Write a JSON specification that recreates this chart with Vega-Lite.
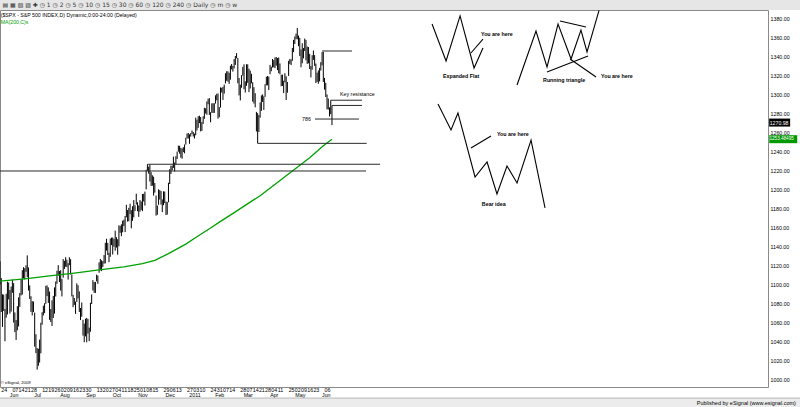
{
  "$schema": "https://vega.github.io/schema/vega-lite/v6.json",
  "width": 768,
  "height": 377,
  "autosize": {"type": "none"},
  "padding": {"left": 0, "top": 10, "right": 32, "bottom": 20},
  "background": "white",
  "config": {
    "view": {"stroke": "#8a8a8a", "strokeWidth": 1},
    "axis": {"grid": false, "domain": false, "ticks": false, "labelFont": "Liberation Sans, sans-serif", "labelFontSize": 5.3, "labelColor": "#000000", "labelOverlap": false, "labelFlush": false, "labelBound": false, "zindex": 1},
    "text": {"font": "Liberation Sans, sans-serif", "fontSize": 5.3, "color": "#000000"}
  },
  "datasets": {
    "px": [
      {"i":0,"h":1124.9,"l":1100.7,"c":1115.05},{"i":1,"h":1107.3,"l":1071.6,"c":1071.59},{"i":2,"h":1090.2,"l":1055.9,"c":1087.69},{"i":3,"h":1089.9,"l":1072.7,"c":1073.65},{"i":4,"h":1074.8,"l":1040.8,"c":1074.03},{"i":5,"h":1090.8,"l":1065.6,"c":1067.95},{"i":6,"h":1103.5,"l":1069.0,"c":1103.06},{"i":7,"h":1102.6,"l":1084.8,"c":1089.41},
      {"i":8,"h":1094.8,"l":1069.9,"c":1070.71},{"i":9,"h":1098.4,"l":1072.0,"c":1098.38},{"i":10,"h":1105.7,"l":1091.8,"c":1102.83},{"i":11,"h":1102.0,"l":1060.5,"c":1064.88},{"i":12,"h":1071.1,"l":1050.4,"c":1050.47},{"i":13,"h":1063.1,"l":1042.2,"c":1062.0},{"i":14,"h":1077.7,"l":1052.3,"c":1055.69},{"i":15,"h":1087.0,"l":1056.4,"c":1086.84},{"i":16,"h":1091.6,"l":1077.0,"c":1091.6},{"i":17,"h":1105.9,"l":1089.0,"c":1089.63},{"i":18,"h":1115.6,"l":1089.9,"c":1115.23},{"i":19,"h":1118.7,"l":1107.1,"c":1114.61},{"i":20,"h":1117.7,"l":1105.9,"c":1116.04},{"i":21,"h":1120.7,"l":1113.8,"c":1117.51},{"i":22,"h":1131.2,"l":1108.2,"c":1113.2},{"i":23,"h":1118.5,"l":1094.2,"c":1095.31},{"i":24,"h":1099.6,"l":1085.3,"c":1092.04},{"i":25,"h":1088.2,"l":1071.7,"c":1073.69},{"i":26,"h":1083.1,"l":1067.9,"c":1076.76},{"i":27,"h":1082.6,"l":1071.5,"c":1074.57},{"i":28,"h":1071.0,"l":1035.2,"c":1041.24},{"i":29,"h":1048.1,"l":1028.3,"c":1030.71},
      {"i":30,"h":1033.6,"l":1010.9,"c":1027.37},{"i":31,"h":1032.9,"l":1015.0,"c":1022.58},{"i":32,"h":1042.5,"l":1018.4,"c":1028.06},{"i":33,"h":1060.3,"l":1028.1,"c":1060.27},{"i":34,"h":1071.3,"l":1058.2,"c":1070.25},{"i":35,"h":1078.2,"l":1068.0,"c":1077.96},{"i":36,"h":1080.8,"l":1070.4,"c":1078.75},{"i":37,"h":1099.1,"l":1080.2,"c":1095.34},{"i":38,"h":1099.6,"l":1088.3,"c":1095.17},{"i":39,"h":1097.5,"l":1081.1,"c":1096.48},{"i":40,"h":1093.1,"l":1063.3,"c":1064.88},{"i":41,"h":1074.7,"l":1061.1,"c":1071.25},{"i":42,"h":1083.9,"l":1056.9,"c":1083.48},{"i":43,"h":1088.5,"l":1065.3,"c":1069.59},{"i":44,"h":1097.5,"l":1069.9,"c":1093.67},{"i":45,"h":1103.7,"l":1087.9,"c":1102.66},{"i":46,"h":1115.0,"l":1101.3,"c":1115.01},{"i":47,"h":1120.9,"l":1109.8,"c":1113.84},{"i":48,"h":1114.7,"l":1103.1,"c":1106.13},{"i":49,"h":1115.6,"l":1094.1,"c":1101.53},{"i":50,"h":1106.4,"l":1088.0,"c":1101.6},
      {"i":51,"h":1127.3,"l":1107.7,"c":1125.86},{"i":52,"h":1125.4,"l":1116.8,"c":1120.46},{"i":53,"h":1129.2,"l":1119.2,"c":1127.24},{"i":54,"h":1126.6,"l":1118.8,"c":1125.81},{"i":55,"h":1123.0,"l":1105.7,"c":1121.64},{"i":56,"h":1129.2,"l":1120.9,"c":1127.79},{"i":57,"h":1127.2,"l":1111.0,"c":1121.06},{"i":58,"h":1111.1,"l":1088.0,"c":1089.47},{"i":59,"h":1089.6,"l":1076.6,"c":1083.61},{"i":60,"h":1086.3,"l":1079.0,"c":1079.25},{"i":61,"h":1082.6,"l":1069.6,"c":1079.38},{"i":62,"h":1101.7,"l":1082.2,"c":1092.54},{"i":63,"h":1099.8,"l":1085.8,"c":1094.16},{"i":64,"h":1093.3,"l":1071.6,"c":1075.63},{"i":65,"h":1075.8,"l":1063.1,"c":1071.69},{"i":66,"h":1081.6,"l":1066.6,"c":1067.36},{"i":67,"h":1063.3,"l":1046.7,"c":1051.87},{"i":68,"h":1059.4,"l":1039.8,"c":1055.33},{"i":69,"h":1064.5,"l":1045.9,"c":1047.22},{"i":70,"h":1065.3,"l":1039.7,"c":1064.59},{"i":71,"h":1064.3,"l":1048.8,"c":1048.92},{"i":72,"h":1055.1,"l":1040.9,"c":1049.33},
      {"i":73,"h":1081.3,"l":1050.8,"c":1080.29},{"i":74,"h":1090.1,"l":1080.0,"c":1090.1},{"i":75,"h":1105.1,"l":1094.2,"c":1104.51},{"i":76,"h":1103.1,"l":1091.8,"c":1091.84},{"i":77,"h":1103.3,"l":1091.6,"c":1098.87},{"i":78,"h":1110.9,"l":1103.9,"c":1104.18},{"i":79,"h":1110.0,"l":1101.2,"c":1109.55},{"i":80,"h":1123.9,"l":1112.9,"c":1121.9},{"i":81,"h":1127.4,"l":1115.6,"c":1121.1},{"i":82,"h":1126.0,"l":1114.6,"c":1125.07},{"i":83,"h":1125.1,"l":1118.9,"c":1124.66},{"i":84,"h":1131.5,"l":1122.4,"c":1125.59},{"i":85,"h":1144.4,"l":1122.8,"c":1142.71},{"i":86,"h":1148.6,"l":1136.2,"c":1139.78},{"i":87,"h":1144.4,"l":1131.6,"c":1134.28},{"i":88,"h":1133.9,"l":1124.0,"c":1124.83},{"i":89,"h":1148.9,"l":1129.6,"c":1148.67},{"i":90,"h":1149.9,"l":1142.0,"c":1142.16},{"i":91,"h":1150.0,"l":1132.1,"c":1147.7},{"i":92,"h":1148.6,"l":1140.3,"c":1144.73},{"i":93,"h":1157.2,"l":1136.1,"c":1141.2},
      {"i":94,"h":1150.3,"l":1139.4,"c":1146.24},{"i":95,"h":1148.2,"l":1131.9,"c":1137.03},{"i":96,"h":1162.8,"l":1140.7,"c":1160.75},{"i":97,"h":1162.3,"l":1154.9,"c":1159.97},{"i":98,"h":1163.9,"l":1151.4,"c":1158.06},{"i":99,"h":1167.7,"l":1155.5,"c":1165.15},{"i":100,"h":1168.7,"l":1162.0,"c":1165.32},{"i":101,"h":1172.6,"l":1155.7,"c":1169.77},{"i":102,"h":1184.4,"l":1171.3,"c":1178.1},{"i":103,"h":1178.9,"l":1166.7,"c":1173.81},{"i":104,"h":1181.2,"l":1167.1,"c":1176.19},{"i":105,"h":1185.5,"l":1174.6,"c":1184.71},{"i":106,"h":1178.8,"l":1159.7,"c":1165.9},{"i":107,"h":1182.9,"l":1167.5,"c":1178.17},{"i":108,"h":1189.4,"l":1171.2,"c":1180.26},{"i":109,"h":1183.9,"l":1178.0,"c":1183.08},{"i":110,"h":1196.1,"l":1184.7,"c":1185.62},{"i":111,"h":1187.1,"l":1177.7,"c":1185.64},{"i":112,"h":1183.8,"l":1171.7,"c":1182.45},{"i":113,"h":1189.5,"l":1177.1,"c":1183.78},{"i":114,"h":1187.9,"l":1179.0,"c":1183.26},
      {"i":115,"h":1195.8,"l":1177.7,"c":1184.38},{"i":116,"h":1196.0,"l":1187.9,"c":1193.57},{"i":117,"h":1198.3,"l":1183.6,"c":1197.96},{"i":118,"h":1221.3,"l":1200.6,"c":1221.06},{"i":119,"h":1227.1,"l":1220.3,"c":1225.85},{"i":120,"h":1224.6,"l":1217.2,"c":1223.25},{"i":121,"h":1226.8,"l":1208.9,"c":1213.4},{"i":122,"h":1218.8,"l":1204.3,"c":1218.71},{"i":123,"h":1215.5,"l":1204.5,"c":1213.54},{"i":124,"h":1214.0,"l":1194.1,"c":1199.21},{"i":125,"h":1207.4,"l":1197.2,"c":1197.75},{"i":126,"h":1194.1,"l":1173.0,"c":1178.34},{"i":127,"h":1183.6,"l":1173.9,"c":1178.59},{"i":128,"h":1200.7,"l":1184.4,"c":1196.69},{"i":129,"h":1199.9,"l":1189.9,"c":1199.73},{"i":130,"h":1198.9,"l":1184.6,"c":1197.84},{"i":131,"h":1190.1,"l":1176.7,"c":1180.73},{"i":132,"h":1198.6,"l":1184.0,"c":1198.35},{"i":133,"h":1198.4,"l":1186.2,"c":1189.4},{"i":134,"h":1187.8,"l":1173.6,"c":1187.76},{"i":135,"h":1187.4,"l":1174.1,"c":1180.55},
      {"i":136,"h":1207.6,"l":1187.1,"c":1206.07},{"i":137,"h":1221.9,"l":1206.3,"c":1221.53},{"i":138,"h":1225.6,"l":1216.8,"c":1224.71},{"i":139,"h":1225.7,"l":1220.7,"c":1223.12},{"i":140,"h":1235.1,"l":1223.3,"c":1223.75},{"i":141,"h":1228.9,"l":1219.5,"c":1228.28},{"i":142,"h":1235.6,"l":1227.1,"c":1233.0},{"i":143,"h":1240.4,"l":1232.6,"c":1240.4},{"i":144,"h":1246.7,"l":1240.3,"c":1240.46},{"i":145,"h":1246.6,"l":1238.2,"c":1241.59},{"i":146,"h":1244.3,"l":1234.0,"c":1235.23},{"i":147,"h":1243.7,"l":1232.9,"c":1242.87},{"i":148,"h":1245.1,"l":1239.9,"c":1243.91},{"i":149,"h":1247.9,"l":1238.6,"c":1247.08},{"i":150,"h":1255.0,"l":1247.8,"c":1254.6},{"i":151,"h":1259.4,"l":1254.2,"c":1258.84},{"i":152,"h":1260.0,"l":1254.2,"c":1256.77},{"i":153,"h":1258.6,"l":1248.6,"c":1257.54},{"i":154,"h":1259.9,"l":1256.2,"c":1258.51},{"i":155,"h":1262.6,"l":1258.9,"c":1259.78},{"i":156,"h":1261.1,"l":1256.3,"c":1257.88},{"i":157,"h":1259.3,"l":1254.2,"c":1257.64},
      {"i":158,"h":1276.2,"l":1257.6,"c":1271.87},{"i":159,"h":1274.1,"l":1262.7,"c":1270.2},{"i":160,"h":1277.6,"l":1265.4,"c":1276.56},{"i":161,"h":1278.2,"l":1270.4,"c":1273.85},{"i":162,"h":1276.8,"l":1261.7,"c":1271.5},{"i":163,"h":1271.5,"l":1262.2,"c":1269.75},{"i":164,"h":1277.6,"l":1269.6,"c":1274.48},{"i":165,"h":1286.6,"l":1275.0,"c":1285.96},{"i":166,"h":1286.0,"l":1280.5,"c":1283.76},{"i":167,"h":1293.2,"l":1279.1,"c":1293.24},{"i":168,"h":1296.1,"l":1290.2,"c":1295.02},{"i":169,"h":1296.7,"l":1279.0,"c":1281.92},{"i":170,"h":1281.9,"l":1271.3,"c":1280.26},{"i":171,"h":1291.2,"l":1281.2,"c":1283.35},{"i":172,"h":1291.3,"l":1281.1,"c":1290.84},{"i":173,"h":1291.3,"l":1281.1,"c":1291.18},{"i":174,"h":1299.7,"l":1291.0,"c":1296.63},{"i":175,"h":1301.3,"l":1294.4,"c":1299.54},{"i":176,"h":1301.6,"l":1275.1,"c":1276.34},{"i":177,"h":1287.2,"l":1276.6,"c":1286.12},
      {"i":178,"h":1308.0,"l":1286.7,"c":1307.59},{"i":179,"h":1307.6,"l":1302.6,"c":1304.03},{"i":180,"h":1308.6,"l":1294.8,"c":1307.1},{"i":181,"h":1311.0,"l":1301.4,"c":1310.87},{"i":182,"h":1322.9,"l":1312.2,"c":1319.05},{"i":183,"h":1325.0,"l":1314.9,"c":1324.57},{"i":184,"h":1324.9,"l":1314.0,"c":1320.88},{"i":185,"h":1323.4,"l":1311.7,"c":1321.87},{"i":186,"h":1330.8,"l":1316.1,"c":1329.15},{"i":187,"h":1332.6,"l":1326.9,"c":1332.32},{"i":188,"h":1330.6,"l":1324.6,"c":1328.01},{"i":189,"h":1337.8,"l":1328.0,"c":1336.32},{"i":190,"h":1341.0,"l":1331.7,"c":1340.43},{"i":191,"h":1344.1,"l":1338.6,"c":1343.01},{"i":192,"h":1338.9,"l":1312.3,"c":1315.44},{"i":193,"h":1317.9,"l":1299.6,"c":1307.4},{"i":194,"h":1310.9,"l":1294.3,"c":1306.1},{"i":195,"h":1320.9,"l":1307.6,"c":1319.88},{"i":196,"h":1329.6,"l":1320.4,"c":1327.22},
      {"i":197,"h":1332.3,"l":1306.1,"c":1306.33},{"i":198,"h":1314.4,"l":1302.6,"c":1308.44},{"i":199,"h":1332.3,"l":1309.7,"c":1330.97},{"i":200,"h":1332.3,"l":1312.8,"c":1321.15},{"i":201,"h":1327.7,"l":1303.0,"c":1310.13},{"i":202,"h":1325.7,"l":1306.9,"c":1321.82},{"i":203,"h":1322.3,"l":1312.3,"c":1320.02},{"i":204,"h":1313.4,"l":1293.0,"c":1295.11},{"i":205,"h":1308.3,"l":1291.0,"c":1304.28},{"i":206,"h":1301.9,"l":1287.0,"c":1296.39},{"i":207,"h":1282.2,"l":1261.6,"c":1281.87},{"i":208,"h":1280.9,"l":1249.1,"c":1256.88},{"i":209,"h":1278.8,"l":1261.1,"c":1273.72},{"i":210,"h":1292.2,"l":1276.1,"c":1279.2},{"i":211,"h":1299.6,"l":1283.3,"c":1298.38},{"i":212,"h":1300.6,"l":1292.7,"c":1293.77},{"i":213,"h":1298.6,"l":1284.3,"c":1297.54},{"i":214,"h":1311.3,"l":1298.1,"c":1309.66},{"i":215,"h":1319.2,"l":1310.1,"c":1313.8},{"i":216,"h":1320.0,"l":1310.2,"c":1310.19},{"i":217,"h":1319.4,"l":1305.3,"c":1319.44},{"i":218,"h":1331.7,"l":1321.9,"c":1328.26},{"i":219,"h":1329.8,"l":1325.0,"c":1325.83},
      {"i":220,"h":1337.9,"l":1328.9,"c":1332.41},{"i":221,"h":1336.7,"l":1329.1,"c":1332.87},{"i":222,"h":1339.5,"l":1328.3,"c":1332.63},{"i":223,"h":1340.0,"l":1330.9,"c":1335.54},{"i":224,"h":1338.8,"l":1326.2,"c":1333.51},{"i":225,"h":1339.5,"l":1322.9,"c":1328.17},{"i":226,"h":1333.2,"l":1321.8,"c":1324.46},{"i":227,"h":1321.4,"l":1309.2,"c":1314.16},{"i":228,"h":1321.4,"l":1309.5,"c":1314.41},{"i":229,"h":1315.0,"l":1302.0,"c":1314.52},{"i":230,"h":1322.9,"l":1313.3,"c":1319.68},{"i":231,"h":1319.7,"l":1294.7,"c":1305.14},{"i":232,"h":1313.7,"l":1302.4,"c":1312.62},{"i":233,"h":1336.0,"l":1320.1,"c":1330.36},{"i":234,"h":1338.0,"l":1332.5,"c":1337.38},{"i":235,"h":1337.5,"l":1331.5,"c":1335.25},{"i":236,"h":1349.6,"l":1336.0,"c":1347.24},{"i":237,"h":1358.0,"l":1345.1,"c":1355.66},{"i":238,"h":1361.6,"l":1353.7,"c":1360.48},{"i":239,"h":1364.6,"l":1358.7,"c":1363.61},
      {"i":240,"h":1370.6,"l":1358.6,"c":1361.22},{"i":241,"h":1362.6,"l":1351.4,"c":1356.62},{"i":242,"h":1360.2,"l":1341.1,"c":1347.32},{"i":243,"h":1348.0,"l":1329.2,"c":1335.1},{"i":244,"h":1354.4,"l":1333.4,"c":1340.2},{"i":245,"h":1349.4,"l":1338.6,"c":1346.29},{"i":246,"h":1359.4,"l":1346.3,"c":1357.16},{"i":247,"h":1358.0,"l":1336.5,"c":1342.08},{"i":248,"h":1351.0,"l":1332.7,"c":1348.65},{"i":249,"h":1350.5,"l":1333.4,"c":1337.77},{"i":250,"h":1343.3,"l":1327.3,"c":1329.47},{"i":251,"h":1330.4,"l":1318.5,"c":1328.98},{"i":252,"h":1341.9,"l":1326.6,"c":1340.68},{"i":253,"h":1346.8,"l":1336.9,"c":1343.6},{"i":254,"h":1342.0,"l":1330.7,"c":1333.27},{"i":255,"h":1333.1,"l":1312.6,"c":1317.37},{"i":256,"h":1323.5,"l":1313.8,"c":1316.28},{"i":257,"h":1325.9,"l":1311.8,"c":1320.47},{"i":258,"h":1328.5,"l":1314.3,"c":1325.69},{"i":259,"h":1334.6,"l":1325.7,"c":1331.1},{"i":260,"h":1345.2,"l":1331.1,"c":1345.2},
      {"i":261,"h":1345.4,"l":1313.7,"c":1314.55},{"i":262,"h":1318.0,"l":1305.6,"c":1312.94},{"i":263,"h":1312.9,"l":1297.9,"c":1300.16},{"i":264,"h":1300.6,"l":1284.9,"c":1286.17},{"i":265,"h":1296.2,"l":1284.7,"c":1284.94},{"i":266,"h":1287.0,"l":1277.4,"c":1279.56},{"i":267,"h":1294.5,"l":1279.8,"c":1289.0},{"i":268,"h":1288.9,"l":1268.3,"c":1270.98}
    ],
    "ma": [
      {"i":0,"v":1104},{"i":20,"v":1106.5},{"i":40,"v":1109.5},{"i":60,"v":1112.5},{"i":80,"v":1116},{"i":100,"v":1119},{"i":115,"v":1122.5},{"i":125,"v":1126},{"i":136,"v":1133},{"i":150,"v":1143},{"i":158,"v":1150},{"i":170,"v":1160},{"i":178,"v":1167},{"i":190,"v":1177},{"i":197,"v":1183},{"i":210,"v":1194},{"i":220,"v":1204},{"i":230,"v":1214},{"i":240,"v":1224},{"i":250,"v":1234},{"i":261,"v":1246.5},{"i":268,"v":1253.48}
    ],
    "levels": [
      {"i":119,"i2":306.8,"p":1227.1},
      {"i":0,"i2":295.5,"p":1220.0},
      {"i":208,"i2":296.0,"p":1249.1},
      {"i":254.3,"i2":289.8,"p":1274.7},
      {"i":267,"i2":292.2,"p":1294.5},
      {"i":268,"i2":292.2,"p":1289.0},
      {"i":260,"i2":284.2,"p":1346.3}
    ],
    "sketch": [
      {"g":"ef","k":0,"i":348.8,"p":1374.7},{"g":"ef","k":1,"i":360.1,"p":1335.8},{"g":"ef","k":2,"i":371.4,"p":1383.2},{"g":"ef","k":3,"i":382.7,"p":1328.4},{"g":"ef","k":4,"i":389.9,"p":1349.5},
      {"g":"efp","k":0,"i":380.2,"p":1344.2},{"g":"efp","k":1,"i":389.9,"p":1358.9},
      {"g":"rt","k":0,"i":417.4,"p":1310.5},{"g":"rt","k":1,"i":432.7,"p":1367.4},{"g":"rt","k":2,"i":441.6,"p":1329.5},{"g":"rt","k":3,"i":450.5,"p":1374.7},{"g":"rt","k":4,"i":461.0,"p":1337.9},{"g":"rt","k":5,"i":469.0,"p":1368.4},{"g":"rt","k":6,"i":473.9,"p":1345.3},{"g":"rt","k":7,"i":483.6,"p":1389.0},
      {"g":"rtu","k":0,"i":452.1,"p":1377.9},{"g":"rtu","k":1,"i":473.1,"p":1371.6},
      {"g":"rtl","k":0,"i":441.6,"p":1324.2},{"g":"rtl","k":1,"i":474.7,"p":1341.1},
      {"g":"rtp","k":0,"i":460.2,"p":1337.9},{"g":"rtp","k":1,"i":481.2,"p":1318.9},
      {"g":"bi","k":0,"i":353.6,"p":1290.5},{"g":"bi","k":1,"i":364.1,"p":1263.2},{"g":"bi","k":2,"i":369.7,"p":1281.1},{"g":"bi","k":3,"i":383.5,"p":1213.7},{"g":"bi","k":4,"i":393.2,"p":1229.5},{"g":"bi","k":5,"i":401.2,"p":1195.8},{"g":"bi","k":6,"i":409.3,"p":1225.3},{"g":"bi","k":7,"i":417.4,"p":1207.4},{"g":"bi","k":8,"i":428.7,"p":1252.6},{"g":"bi","k":9,"i":440.0,"p":1181.1},
      {"g":"bip","k":0,"i":380.2,"p":1244.2},{"g":"bip","k":1,"i":396.4,"p":1256.8}
    ],
    "notes": [
      {"t":"You are here","i":388.3,"p":1364.2},
      {"t":"Expanded Flat","i":357.6,"p":1320.3},
      {"t":"Running triangle","i":438.4,"p":1315.5},
      {"t":"You are here","i":485.2,"p":1320.0},
      {"t":"You are here","i":401.2,"p":1259.3},
      {"t":"Bear idea","i":389.0,"p":1184.9}
    ],
    "notes2": [
      {"t":"Key resistance","i":274.5,"p":1301.0},
      {"t":"786","i":243.8,"p":1274.7}
    ]
  },
  "resolve": {"axis": {"x": "independent", "y": "independent"}},
  "layer": [
    {
      "data": {"values": [{}]},
      "mark": {"type": "rect", "fill": "#e6e6e6"},
      "encoding": {
        "x": {"datum": -2, "type": "quantitative", "scale": {"domain": [0, 620], "nice": false, "zero": false}, "axis": null},
        "x2": {"datum": 650},
        "y": {"datum": 1389.47, "type": "quantitative", "scale": {"domain": [992.63, 1389.47], "nice": false, "zero": false}, "axis": null},
        "y2": {"datum": 1401}
      }
    },
    {
      "data": {"values": [{}]},
      "mark": {"type": "rect", "fill": "#ececec", "stroke": "#a8a8a8", "strokeWidth": 0.8},
      "encoding": {
        "x": {"datum": -2, "type": "quantitative", "scale": {"domain": [0, 620], "nice": false, "zero": false}, "axis": null},
        "x2": {"datum": 650},
        "y": {"datum": 981.0, "type": "quantitative", "scale": {"domain": [992.63, 1389.47], "nice": false, "zero": false}, "axis": null},
        "y2": {"datum": 968}
      }
    },
    {
      "data": {"name": "px"},
      "mark": {"type": "rule", "color": "#000000", "strokeWidth": 1},
      "encoding": {
        "x": {"field": "i", "type": "quantitative", "scale": {"domain": [0, 620], "nice": false, "zero": false},
          "axis": {"orient": "bottom", "title": null, "labelPadding": 0,
            "values": [3,12,17,22,27,36,41,46,51,56,61,66,71,80,85,90,95,100,105,110,115,120,125,134,139,144,153,158,163,172,177,182,187,196,201,206,211,216,221,226,235,240,245,250,255,264],
            "labelExpr": "['24','07','14','21','28','12','19','26','02','09','16','23','30','13','20','27','04','11','18','25','01','08','15','29','06','13','27','03','10','24','31','07','14','28','07','14','21','28','04','11','25','02','09','16','23','06'][indexof([3,12,17,22,27,36,41,46,51,56,61,66,71,80,85,90,95,100,105,110,115,120,125,134,139,144,153,158,163,172,177,182,187,196,201,206,211,216,221,226,235,240,245,250,255,264], datum.value)]"}},
        "y": {"field": "l", "type": "quantitative", "scale": {"domain": [992.63, 1389.47], "nice": false, "zero": false},
          "axis": {"orient": "right", "title": null, "format": ".2f", "labelPadding": 2,
            "values": [1000,1020,1040,1060,1080,1100,1120,1140,1160,1180,1200,1220,1240,1260,1280,1300,1320,1340,1360,1380]}},
        "y2": {"field": "h"}
      }
    },
    {
      "data": {"name": "ma"},
      "mark": {"type": "line", "color": "#00a000", "strokeWidth": 1.3},
      "encoding": {
        "x": {"field": "i", "type": "quantitative", "scale": {"domain": [0, 620], "nice": false, "zero": false},
          "axis": {"orient": "bottom", "title": null, "offset": 4, "labelPadding": 1,
            "values": [11,30,52,73,94,115,137,157,177,200,221,242,263],
            "labelExpr": "['Jun','Jul','Aug','Sep','Oct','Nov','Dec','2011','Feb','Mar','Apr','May','Jun'][indexof([11,30,52,73,94,115,137,157,177,200,221,242,263], datum.value)]"}},
        "y": {"field": "v", "type": "quantitative", "scale": {"domain": [992.63, 1389.47], "nice": false, "zero": false}, "axis": null}
      }
    },
    {
      "data": {"name": "levels"},
      "mark": {"type": "rule", "color": "#2a2a2a", "strokeWidth": 1},
      "encoding": {
        "x": {"field": "i", "type": "quantitative", "scale": {"domain": [0, 620], "nice": false, "zero": false}, "axis": null},
        "x2": {"field": "i2"},
        "y": {"field": "p", "type": "quantitative", "scale": {"domain": [992.63, 1389.47], "nice": false, "zero": false}, "axis": null}
      }
    },
    {
      "data": {"name": "sketch"},
      "mark": {"type": "line", "color": "#000000", "strokeWidth": 1.1},
      "encoding": {
        "x": {"field": "i", "type": "quantitative", "scale": {"domain": [0, 620], "nice": false, "zero": false}, "axis": null},
        "y": {"field": "p", "type": "quantitative", "scale": {"domain": [992.63, 1389.47], "nice": false, "zero": false}, "axis": null},
        "detail": {"field": "g"},
        "order": {"field": "k", "type": "quantitative"}
      }
    },
    {
      "data": {"name": "notes"},
      "mark": {"type": "text", "align": "left", "baseline": "middle", "fontWeight": "bold", "fontSize": 5.3},
      "encoding": {
        "x": {"field": "i", "type": "quantitative", "scale": {"domain": [0, 620], "nice": false, "zero": false}, "axis": null},
        "y": {"field": "p", "type": "quantitative", "scale": {"domain": [992.63, 1389.47], "nice": false, "zero": false}, "axis": null},
        "text": {"field": "t"}
      }
    },
    {
      "data": {"name": "notes2"},
      "mark": {"type": "text", "align": "left", "baseline": "middle", "fontSize": 5.3},
      "encoding": {
        "x": {"field": "i", "type": "quantitative", "scale": {"domain": [0, 620], "nice": false, "zero": false}, "axis": null},
        "y": {"field": "p", "type": "quantitative", "scale": {"domain": [992.63, 1389.47], "nice": false, "zero": false}, "axis": null},
        "text": {"field": "t"}
      }
    },
    {
      "data": {"values": [{"t": "($SPX - S&P 500 INDEX,D) Dynamic,0:00-24:00 (Delayed)"}]},
      "mark": {"type": "text", "align": "left", "baseline": "middle", "fontSize": 5.2},
      "encoding": {
        "x": {"datum": 0.6, "type": "quantitative", "scale": {"domain": [0, 620], "nice": false, "zero": false}, "axis": null},
        "y": {"datum": 1384.2, "type": "quantitative", "scale": {"domain": [992.63, 1389.47], "nice": false, "zero": false}, "axis": null},
        "text": {"field": "t"}
      }
    },
    {
      "data": {"values": [{"t": "MA(200,C)s"}]},
      "mark": {"type": "text", "align": "left", "baseline": "middle", "fontSize": 5.2, "color": "#00a000"},
      "encoding": {
        "x": {"datum": 0.6, "type": "quantitative", "scale": {"domain": [0, 620], "nice": false, "zero": false}, "axis": null},
        "y": {"datum": 1376.8, "type": "quantitative", "scale": {"domain": [992.63, 1389.47], "nice": false, "zero": false}, "axis": null},
        "text": {"field": "t"}
      }
    },
    {
      "data": {"values": [{"t": "▤ ▦ ▧ ▨ ✚  ◷ 1   ◷ 2   ◷ 5   ◷ 10   ◷ 15   ◷ 30   ◷ 60   ◷ 120   ◷ 240   ◷ Daily   ◷ m   ◷ w"}]},
      "mark": {"type": "text", "align": "left", "baseline": "middle", "fontSize": 6, "font": "DejaVu Sans", "color": "#333333"},
      "encoding": {
        "x": {"datum": 2, "type": "quantitative", "scale": {"domain": [0, 620], "nice": false, "zero": false}, "axis": null},
        "y": {"datum": 1394.8, "type": "quantitative", "scale": {"domain": [992.63, 1389.47], "nice": false, "zero": false}, "axis": null},
        "text": {"field": "t"}
      }
    },
    {
      "data": {"values": [{"t": "© eSignal, 2009"}]},
      "mark": {"type": "text", "align": "left", "baseline": "middle", "fontSize": 4.2},
      "encoding": {
        "x": {"datum": 0.6, "type": "quantitative", "scale": {"domain": [0, 620], "nice": false, "zero": false}, "axis": null},
        "y": {"datum": 997.2, "type": "quantitative", "scale": {"domain": [992.63, 1389.47], "nice": false, "zero": false}, "axis": null},
        "text": {"field": "t"}
      }
    },
    {
      "data": {"values": [{"t": "Published by eSignal (www.esignal.com)"}]},
      "mark": {"type": "text", "align": "right", "baseline": "middle", "fontSize": 5.5},
      "encoding": {
        "x": {"datum": 642.5, "type": "quantitative", "scale": {"domain": [0, 620], "nice": false, "zero": false}, "axis": null},
        "y": {"datum": 975.6, "type": "quantitative", "scale": {"domain": [992.63, 1389.47], "nice": false, "zero": false}, "axis": null},
        "text": {"field": "t"}
      }
    },
    {
      "data": {"values": [{"v": 1270.98}]},
      "mark": {"type": "rect", "fill": "#000000", "width": 21, "height": 8},
      "encoding": {
        "x": {"datum": 629.4, "type": "quantitative", "scale": {"domain": [0, 620], "nice": false, "zero": false}, "axis": null},
        "y": {"field": "v", "type": "quantitative", "scale": {"domain": [992.63, 1389.47], "nice": false, "zero": false}, "axis": null}
      }
    },
    {
      "data": {"values": [{"v": 1270.98}]},
      "mark": {"type": "text", "align": "left", "baseline": "middle", "fontSize": 5.2, "color": "#ffffff"},
      "encoding": {
        "x": {"datum": 621.4, "type": "quantitative", "scale": {"domain": [0, 620], "nice": false, "zero": false}, "axis": null},
        "y": {"field": "v", "type": "quantitative", "scale": {"domain": [992.63, 1389.47], "nice": false, "zero": false}, "axis": null},
        "text": {"field": "v", "format": ".2f"}
      }
    },
    {
      "data": {"values": [{"v": 1253.48495}]},
      "mark": {"type": "rect", "fill": "#009a00", "width": 28, "height": 8},
      "encoding": {
        "x": {"datum": 632.3, "type": "quantitative", "scale": {"domain": [0, 620], "nice": false, "zero": false}, "axis": null},
        "y": {"field": "v", "type": "quantitative", "scale": {"domain": [992.63, 1389.47], "nice": false, "zero": false}, "axis": null}
      }
    },
    {
      "data": {"values": [{"v": 1253.48495}]},
      "mark": {"type": "text", "align": "left", "baseline": "middle", "fontSize": 4.6, "color": "#ffffff"},
      "encoding": {
        "x": {"datum": 621.2, "type": "quantitative", "scale": {"domain": [0, 620], "nice": false, "zero": false}, "axis": null},
        "y": {"field": "v", "type": "quantitative", "scale": {"domain": [992.63, 1389.47], "nice": false, "zero": false}, "axis": null},
        "text": {"field": "v", "format": ".5f"}
      }
    }
  ]
}
